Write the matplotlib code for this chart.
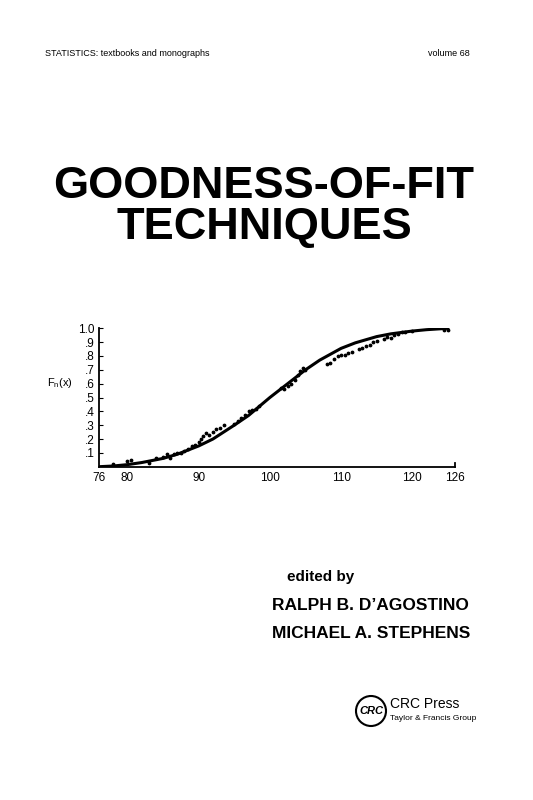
import matplotlib
matplotlib.use("Agg")
import matplotlib.pyplot as plt
from matplotlib.patches import Ellipse

plt.rcParams['font.family'] = ['Liberation Sans', 'DejaVu Sans']

curve_x = [76, 78, 80, 82, 85, 87, 90, 92, 95, 97, 100, 102, 105, 107, 110, 112, 115, 117, 120, 122, 125]
curve_y = [0.0, 0.005, 0.015, 0.03, 0.06, 0.09, 0.15, 0.20, 0.30, 0.37, 0.50, 0.58, 0.70, 0.77, 0.855, 0.895, 0.94, 0.96, 0.98, 0.99, 1.0]

dots_x = [78, 80, 80.5, 83, 84, 85, 85.5, 86, 86.5, 87, 87.5, 88, 88.5, 89, 89.5, 90, 90.3, 90.6, 91, 91.5,
          92, 92.5, 93, 93.5, 95, 95.5, 96, 96.5, 97, 97.5, 98, 98.5, 101.5, 102, 102.5, 103, 103.5, 104,
          104.3, 104.6, 105, 108, 108.5, 109, 109.5, 110, 110.5, 111, 111.5, 112.5, 113, 113.5, 114, 114.5,
          115, 116, 116.5, 117, 117.5, 118, 118.5, 119, 120, 124.5, 125]
dots_y = [0.02, 0.04, 0.05, 0.03, 0.06, 0.07, 0.09, 0.06, 0.09, 0.10, 0.10, 0.11, 0.13, 0.15, 0.16, 0.18, 0.20,
          0.22, 0.24, 0.23, 0.25, 0.27, 0.28, 0.30, 0.31, 0.33, 0.35, 0.37, 0.40, 0.41, 0.42, 0.44, 0.57, 0.56,
          0.58, 0.60, 0.63, 0.66, 0.69, 0.71, 0.70, 0.74, 0.75, 0.78, 0.80, 0.81, 0.81, 0.82, 0.83, 0.85, 0.86,
          0.87, 0.88, 0.90, 0.91, 0.92, 0.94, 0.93, 0.95, 0.96, 0.97, 0.97, 0.98, 0.99, 0.99]

xticks = [76, 80, 90, 100, 110, 120, 126]
yticks = [0.1, 0.2, 0.3, 0.4, 0.5, 0.6, 0.7, 0.8, 0.9, 1.0]
ylabels = ['.1', '.2', '.3', '.4', '.5', '.6', '.7', '.8', '.9', '1.0']

fig = plt.figure(figsize=(5.33, 8), dpi=100)
fig.patch.set_facecolor('white')
W, H = 533, 800
def T(x, y, s, **kw):
    fig.text(x / W, 1 - y / H, s, **kw)

T(45, 53, "STATISTICS: textbooks and monographs", fontsize=6.5, va='center')
T(470, 53, "volume 68", fontsize=6.5, va='center', ha='right')
T(264, 186, "GOODNESS-OF-FIT", fontsize=32.5, fontweight='bold', ha='center', va='center')
T(264, 228, "TECHNIQUES", fontsize=32.5, fontweight='bold', ha='center', va='center')
T(287, 577, "edited by", fontsize=11, fontweight='bold', va='center')
T(272, 606, "RALPH B. D\u2019AGOSTINO", fontsize=12.5, fontweight='bold', va='center')
T(272, 633, "MICHAEL A. STEPHENS", fontsize=12.5, fontweight='bold', va='center')
T(390, 704, "CRC Press", fontsize=10, va='center')
T(390, 719, "Taylor & Francis Group", fontsize=6, va='center')
T(371, 711, "CRC", fontsize=8, fontweight='bold', style='italic', ha='center', va='center')
fig.add_artist(Ellipse((371 / W, 1 - 711 / H), 30 / W, 30 / H, transform=fig.transFigure,
                       fill=False, lw=1.5, color='black'))
T(47, 383, "F$_\\mathregular{n}$(x)", fontsize=8, va='center')

ax = fig.add_axes([99 / W, 1 - 466.7 / H, 356 / W, 138.4 / H])
ax.plot(curve_x, curve_y, color='black', lw=2.2)
ax.scatter(dots_x, dots_y, s=3, color='black', zorder=3)
ax.set_xlim(76, 126)
ax.set_ylim(0, 1.0)
for s in ['top', 'right']:
    ax.spines[s].set_visible(False)
ax.spines['left'].set_linewidth(1.3)
ax.spines['bottom'].set_linewidth(1.3)
ax.set_xticks(xticks)
ax.set_xticklabels([str(v) for v in xticks], fontsize=8.5)
ax.tick_params(axis='x', length=0, pad=4)
ax.set_yticks(yticks)
ax.set_yticklabels(ylabels, fontsize=8.5)
ax.tick_params(axis='y', direction='in', length=3, pad=3)
ax.plot([126, 126], [0, 0.03], color='black', lw=1.3, clip_on=False)
fig.savefig("out.png", dpi=100, facecolor='white')
